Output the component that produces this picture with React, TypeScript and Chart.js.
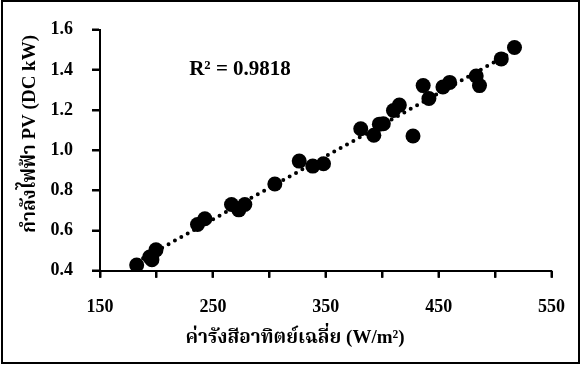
import React, { useEffect, useRef } from "react";
import { Chart, registerables } from "chart.js";

Chart.register(...registerables);

// Average solar irradiance (W/m²)
const irradiance = [182.5, 194, 196, 199.6, 236.4, 242.9, 266.5, 273, 278.3, 304.9, 326.5, 338.5, 348, 381, 392.6, 397.5, 401, 410, 415.2, 427.3, 436.3, 441.4, 453.8, 459.8, 483.3, 486.2, 505.5, 517.2];
// PV power (DC kW)
const pvPower = [0.428, 0.468, 0.455, 0.504, 0.63, 0.659, 0.73, 0.703, 0.73, 0.832, 0.946, 0.921, 0.933, 1.107, 1.075, 1.13, 1.132, 1.198, 1.225, 1.071, 1.322, 1.258, 1.315, 1.338, 1.37, 1.322, 1.455, 1.512];

const xTickValues = [150, 250, 350, 450, 550];
const rSquaredLabel = "R² = 0.9818";
const xTitle = "ค่ารังสีอาทิตย์เฉลี่ย (W/m²)";
const yTitle = "กำลังไฟฟ้า PV (DC kW)";

const FONT = '"Liberation Serif", "Times New Roman", "Noto Serif Thai", "Noto Sans Thai", serif';

function linearFit(xs: number[], ys: number[]) {
  const n = xs.length;
  const mx = xs.reduce((a, b) => a + b, 0) / n;
  const my = ys.reduce((a, b) => a + b, 0) / n;
  let sxy = 0, sxx = 0;
  for (let i = 0; i < n; i++) {
    sxy += (xs[i] - mx) * (ys[i] - my);
    sxx += (xs[i] - mx) * (xs[i] - mx);
  }
  const slope = sxy / sxx;
  return { slope, intercept: my - slope * mx };
}

export default function App() {
  const ref = useRef<HTMLCanvasElement | null>(null);
  useEffect(() => {
    if (!ref.current) return;
    const fit = linearFit(irradiance, pvPower);
    const xMin = Math.min(...irradiance);
    const xMax = Math.max(...irradiance);
    const trend = [
      { x: xMin, y: fit.slope * xMin + fit.intercept },
      { x: xMax, y: fit.slope * xMax + fit.intercept },
    ];
    const decor = {
      id: "decor",
      afterDraw(chart: any) {
        const ctx = chart.ctx;
        const x = chart.scales.x;
        const y = chart.scales.y;
        const area = chart.chartArea;
        ctx.save();
        ctx.strokeStyle = "#000";
        ctx.lineWidth = 2;
        ctx.strokeRect(2, 1, 577, 362);
        // tick marks from the scales
        ctx.beginPath();
        x.ticks.forEach((t: any) => {
          const px = Math.round(x.getPixelForValue(t.value));
          ctx.moveTo(px, area.bottom);
          ctx.lineTo(px, area.bottom + 7);
        });
        y.ticks.forEach((t: any) => {
          const py = Math.round(y.getPixelForValue(t.value));
          ctx.moveTo(area.left, py);
          ctx.lineTo(area.left - 8, py);
        });
        ctx.stroke();
        ctx.fillStyle = "#000";
        ctx.font = `bold 21px ${FONT}`;
        ctx.textAlign = "left";
        ctx.textBaseline = "middle";
        ctx.fillText(rSquaredLabel, x.getPixelForValue(229), y.getPixelForValue(1.4));
        ctx.font = `bold 19px ${FONT}`;
        ctx.textAlign = "center";
        ctx.fillText(xTitle, 295, 338);
        ctx.translate(30, 134);
        ctx.rotate(-Math.PI / 2);
        ctx.fillText(yTitle, 0, 0);
        ctx.restore();
      },
    };
    const chart = new Chart(ref.current, {
      type: "scatter",
      data: {
        datasets: [
          {
            type: "line",
            data: trend,
            borderColor: "#000",
            borderWidth: 4,
            borderDash: [0, 7.3],
            borderCapStyle: "round",
            pointRadius: 0,
            fill: false,
            order: 1,
          } as any,
          {
            data: irradiance.map((v, i) => ({ x: v, y: pvPower[i] })),
            backgroundColor: "#000",
            borderColor: "#000",
            pointRadius: 7.5,
            pointBorderWidth: 0,
            order: 2,
          },
        ],
      },
      options: {
        animation: false,
        responsive: false,
        devicePixelRatio: 1,
        layout: { padding: { left: 0, right: 32, top: 23, bottom: 0 } },
        plugins: { legend: { display: false }, tooltip: { enabled: false } },
        scales: {
          x: {
            type: "linear",
            min: 150,
            max: 550,
            afterFit: (s: any) => { s.height = 94.3; },
            afterBuildTicks: (s: any) => {
              const t: any[] = [];
              for (let v = 150; v <= 550; v += 50) t.push({ value: v });
              s.ticks = t;
            },
            ticks: {
              color: "#000",
              font: { family: FONT, size: 18, weight: "bold" },
              padding: 19,
              maxRotation: 0,
              autoSkip: false,
              callback: (v: any) => (xTickValues.includes(Number(v)) ? String(v) : ""),
            },
            grid: { drawOnChartArea: false, drawTicks: true, tickLength: 7, color: "#000", tickWidth: 2 },
            border: { display: true, color: "#000", width: 2 },
          },
          y: {
            min: 0.4,
            max: 1.6,
            afterFit: (s: any) => { s.width = 100; },
            ticks: {
              stepSize: 0.2,
              color: "#000",
              font: { family: FONT, size: 18, weight: "bold" },
              padding: 19,
              callback: (v: any) => Number(v).toFixed(1),
            },
            grid: { drawOnChartArea: false, drawTicks: true, tickLength: 8, color: "#000", tickWidth: 2 },
            border: { display: true, color: "#000", width: 2 },
          },
        },
      },
      plugins: [decor],
    });
    return () => chart.destroy();
  }, []);
  return (
    <div style={{ position: "absolute", left: 0, top: 0, width: 584, height: 365, background: "#fff" }}>
      <canvas ref={ref} width={584} height={365} style={{ display: "block" }} />
    </div>
  );
}
